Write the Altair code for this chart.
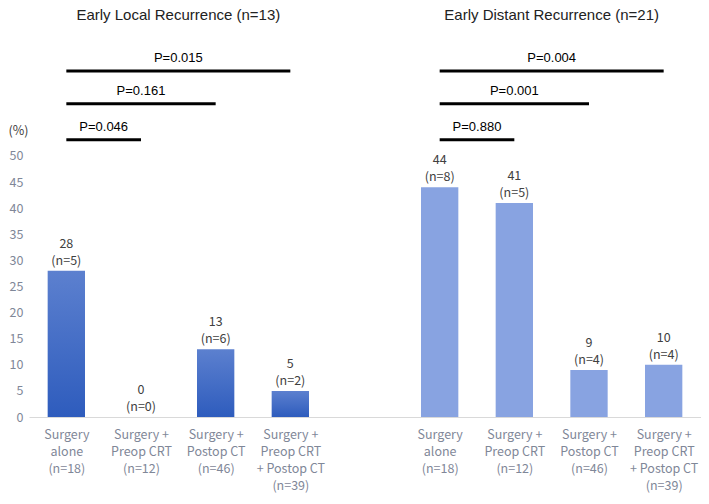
import json
import altair as alt
import pandas as pd

# ---- data ----
categories = [
    "Surgery|alone|(n=18)",
    "Surgery +|Preop CRT|(n=12)",
    "Surgery +|Postop CT|(n=46)",
    "Surgery +|Preop CRT|+ Postop CT|(n=39)",
]
local_pct = [28, 0, 13, 5]
local_n = [5, 0, 6, 2]
distant_pct = [44, 41, 9, 10]
distant_n = [8, 5, 4, 4]
panel_titles = ["Early Local Recurrence (n=13)", "Early Distant Recurrence (n=21)"]
p_local = ["P=0.046", "P=0.161", "P=0.015"]
p_distant = ["P=0.880", "P=0.001", "P=0.004"]
p_compare_to = [1, 2, 3]          # category compared against "Surgery alone"
p_level = [53.1, 60.0, 66.3]      # bracket heights (in % units)
y_ticks = list(range(0, 51, 5))

GAP = 5  # slot offset of the second group (one empty slot between groups)

rows = []
for g, (pcts, ns) in enumerate([(local_pct, local_n), (distant_pct, distant_n)]):
    for i, (p, n) in enumerate(zip(pcts, ns)):
        rows.append({"idx": g * GAP + i, "group": "local" if g == 0 else "distant",
                     "pct": p, "val": str(p), "ntxt": f"(n={n})"})
bars = pd.DataFrame(rows)

prow = []
for g, labs in enumerate([p_local, p_distant]):
    for lab, end, lev in zip(labs, p_compare_to, p_level):
        s = g * GAP
        e = g * GAP + end
        prow.append({"start": s, "end": e, "mid": (s + e) / 2, "level": lev, "label": lab})
pdf = pd.DataFrame(prow)

YTOP = 78.35
tdf = pd.DataFrame({"mid": [1.5, GAP + 1.5], "y": [YTOP, YTOP], "t": panel_titles})

slot_labels = categories + [""] + categories
label_expr = "split(" + json.dumps(slot_labels) + "[datum.value], '|')"

LABEL_COLOR = "#7f8798"
JP_FONT = "Noto Sans CJK JP"

x_scale = alt.Scale(domain=[-0.5, 8.5], nice=False, zero=False)
y_scale = alt.Scale(domain=[0, YTOP], nice=False)

x_axis = alt.Axis(values=[0, 1, 2, 3, 5, 6, 7, 8], labelExpr=label_expr, title=None,
                  grid=False, ticks=False, domainColor="#d9d9d9", labelColor=LABEL_COLOR,
                  labelFont=JP_FONT, labelFontSize=12.5, labelLineHeight=17,
                  labelPadding=11, labelBaseline="top", labelFlush=False,
                  labelOverlap=False, labelBound=False)
y_axis = alt.Axis(values=y_ticks, title="(%)", titleAngle=0, titleX=-21, titleY=122,
                  titleAlign="left", titleBaseline="middle", titleFontWeight="normal",
                  titleFontSize=12.5, titleFont=JP_FONT, titleColor="#404040",
                  grid=False, ticks=False, domain=False, labelPadding=6,
                  labelColor=LABEL_COLOR, labelFont=JP_FONT, labelFontSize=12.5)

base = alt.Chart(bars).transform_calculate(
    x1="datum.idx - 0.25", x2="datum.idx + 0.25"
)

grad = alt.Gradient(
    gradient="linear",
    stops=[alt.GradientStop(color="#5c80cf", offset=0),
           alt.GradientStop(color="#2e5cbd", offset=1)],
    x1=0, x2=0, y1=0, y2=1,
)

local_bars = base.transform_filter("datum.group == 'local'").mark_bar(color=grad).encode(
    x=alt.X("x1:Q", scale=x_scale, axis=x_axis),
    x2="x2:Q",
    y=alt.Y("pct:Q", scale=y_scale, axis=y_axis),
    y2=alt.datum(0),
)
distant_bars = base.transform_filter("datum.group == 'distant'").mark_bar(color="#88a3e1").encode(
    x=alt.X("x1:Q", scale=x_scale),
    x2="x2:Q",
    y=alt.Y("pct:Q", scale=y_scale),
    y2=alt.datum(0),
)
val_text = alt.Chart(bars).mark_text(
    baseline="bottom", dy=-20, font=JP_FONT, fontSize=12.5, color="#404040"
).encode(x=alt.X("idx:Q", scale=x_scale), y=alt.Y("pct:Q", scale=y_scale), text="val:N")
n_text = alt.Chart(bars).mark_text(
    baseline="bottom", dy=-3, font=JP_FONT, fontSize=12.5, color="#404040"
).encode(x=alt.X("idx:Q", scale=x_scale), y=alt.Y("pct:Q", scale=y_scale), text="ntxt:N")

rules = alt.Chart(pdf).mark_rule(strokeWidth=3, color="black").encode(
    x=alt.X("start:Q", scale=x_scale), x2="end:Q", y=alt.Y("level:Q", scale=y_scale)
)
ptext = alt.Chart(pdf).mark_text(
    baseline="bottom", dy=-6, font="Liberation Sans", fontSize=13, color="black"
).encode(x=alt.X("mid:Q", scale=x_scale), y=alt.Y("level:Q", scale=y_scale), text="label:N")

titles = alt.Chart(tdf).mark_text(
    baseline="top", font="Liberation Sans", fontSize=15, color="#222222"
).encode(x=alt.X("mid:Q", scale=x_scale), y=alt.Y("y:Q", scale=y_scale), text="t:N")

chart = alt.layer(local_bars, distant_bars, val_text, n_text, rules, ptext, titles).properties(
    width=672, height=409,
    autosize=alt.AutoSizeParams(type="none"),
    padding={"left": 21, "top": 0, "right": 0, "bottom": 78},
).configure_view(stroke=None)

chart.save("out.html", embed_options={"renderer": "svg", "actions": False})
